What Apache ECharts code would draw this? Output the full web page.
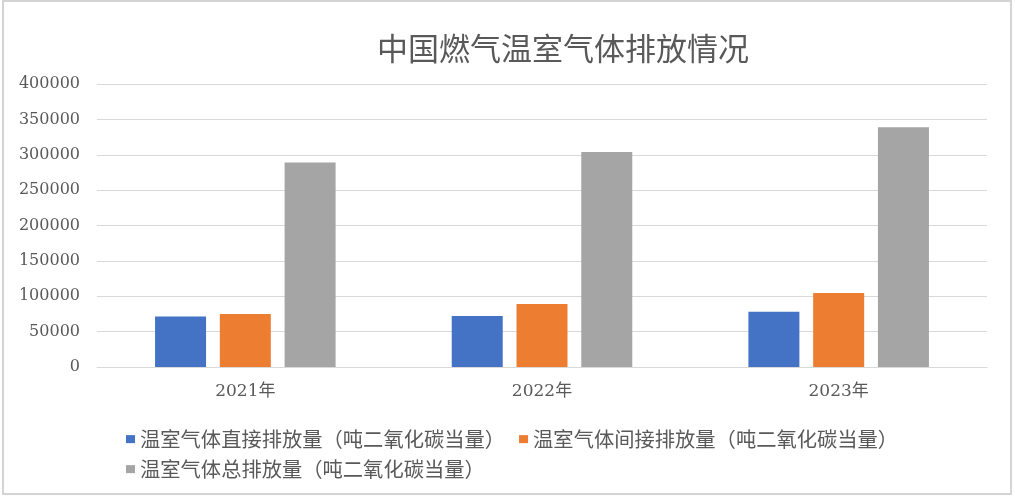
<!DOCTYPE html>
<html>
<head>
<meta charset="utf-8">
<script src="https://cdn.jsdelivr.net/npm/echarts@6/dist/echarts.min.js"></script>
<style>
html,body{margin:0;padding:0;background:#fff;}
#main{width:1015px;height:500px;}
</style>
</head>
<body>
<div id="main"></div>
<script>
const categories = ['2021年', '2022年', '2023年'];
const seriesNames = [
  '温室气体直接排放量（吨二氧化碳当量）',
  '温室气体间接排放量（吨二氧化碳当量）',
  '温室气体总排放量（吨二氧化碳当量）'
];
const directEmission = [71300, 72200, 78200];
const indirectEmission = [75000, 88900, 104600];
const totalEmission = [289000, 304000, 339000];
const yTicks = [0, 50000, 100000, 150000, 200000, 250000, 300000, 350000, 400000];
const colors = ['#4472C4', '#ED7D31', '#A5A5A5'];

const chart = echarts.init(document.getElementById('main'));
const cjk = '"Noto Sans CJK SC", "Noto Sans", sans-serif';
const serif = '"DejaVu Serif", "Noto Sans CJK SC", serif';
const legendText = { color: '#595959', fontSize: 20.3, fontFamily: cjk };

chart.setOption({
  animation: false,
  backgroundColor: '#fff',
  color: colors,
  title: {
    text: '中国燃气温室气体排放情况',
    left: 372,
    top: 28,
    textStyle: { color: '#595959', fontSize: 31, fontWeight: 'normal', fontFamily: cjk }
  },
  graphic: [{
    type: 'rect',
    shape: { x: 3, y: 1, width: 1008, height: 493 },
    style: { fill: 'none', stroke: '#d4d4d4', lineWidth: 2 },
    silent: true
  }],
  legend: [
    {
      data: [seriesNames[0], seriesNames[1]],
      left: 121, top: 424,
      itemWidth: 9, itemHeight: 8, itemGap: 14,
      icon: 'rect',
      textStyle: legendText
    },
    {
      data: [seriesNames[2]],
      left: 121, top: 454,
      itemWidth: 9, itemHeight: 8,
      icon: 'rect',
      textStyle: legendText
    }
  ],
  grid: { left: 97, right: 28, top: 84, bottom: 133, containLabel: false },
  xAxis: {
    type: 'category',
    data: categories,
    axisLine: { lineStyle: { color: '#d9d9d9', width: 1 } },
    axisTick: { show: false },
    axisLabel: { color: '#595959', fontSize: 17, fontFamily: serif, margin: 16 }
  },
  yAxis: {
    type: 'value',
    min: yTicks[0],
    max: yTicks[yTicks.length - 1],
    interval: yTicks[1] - yTicks[0],
    axisLine: { show: false },
    axisTick: { show: false },
    splitLine: { lineStyle: { color: '#d9d9d9', width: 1 } },
    axisLabel: {
      color: '#595959', fontSize: 16, fontFamily: serif, margin: 17,
      formatter: function (v) { return String(v); }
    }
  },
  series: [
    { name: seriesNames[0], type: 'bar', data: directEmission, barWidth: 51, barGap: '27%' },
    { name: seriesNames[1], type: 'bar', data: indirectEmission, barWidth: 51, barGap: '27%' },
    { name: seriesNames[2], type: 'bar', data: totalEmission, barWidth: 51, barGap: '27%' }
  ]
});
</script>
</body>
</html>
